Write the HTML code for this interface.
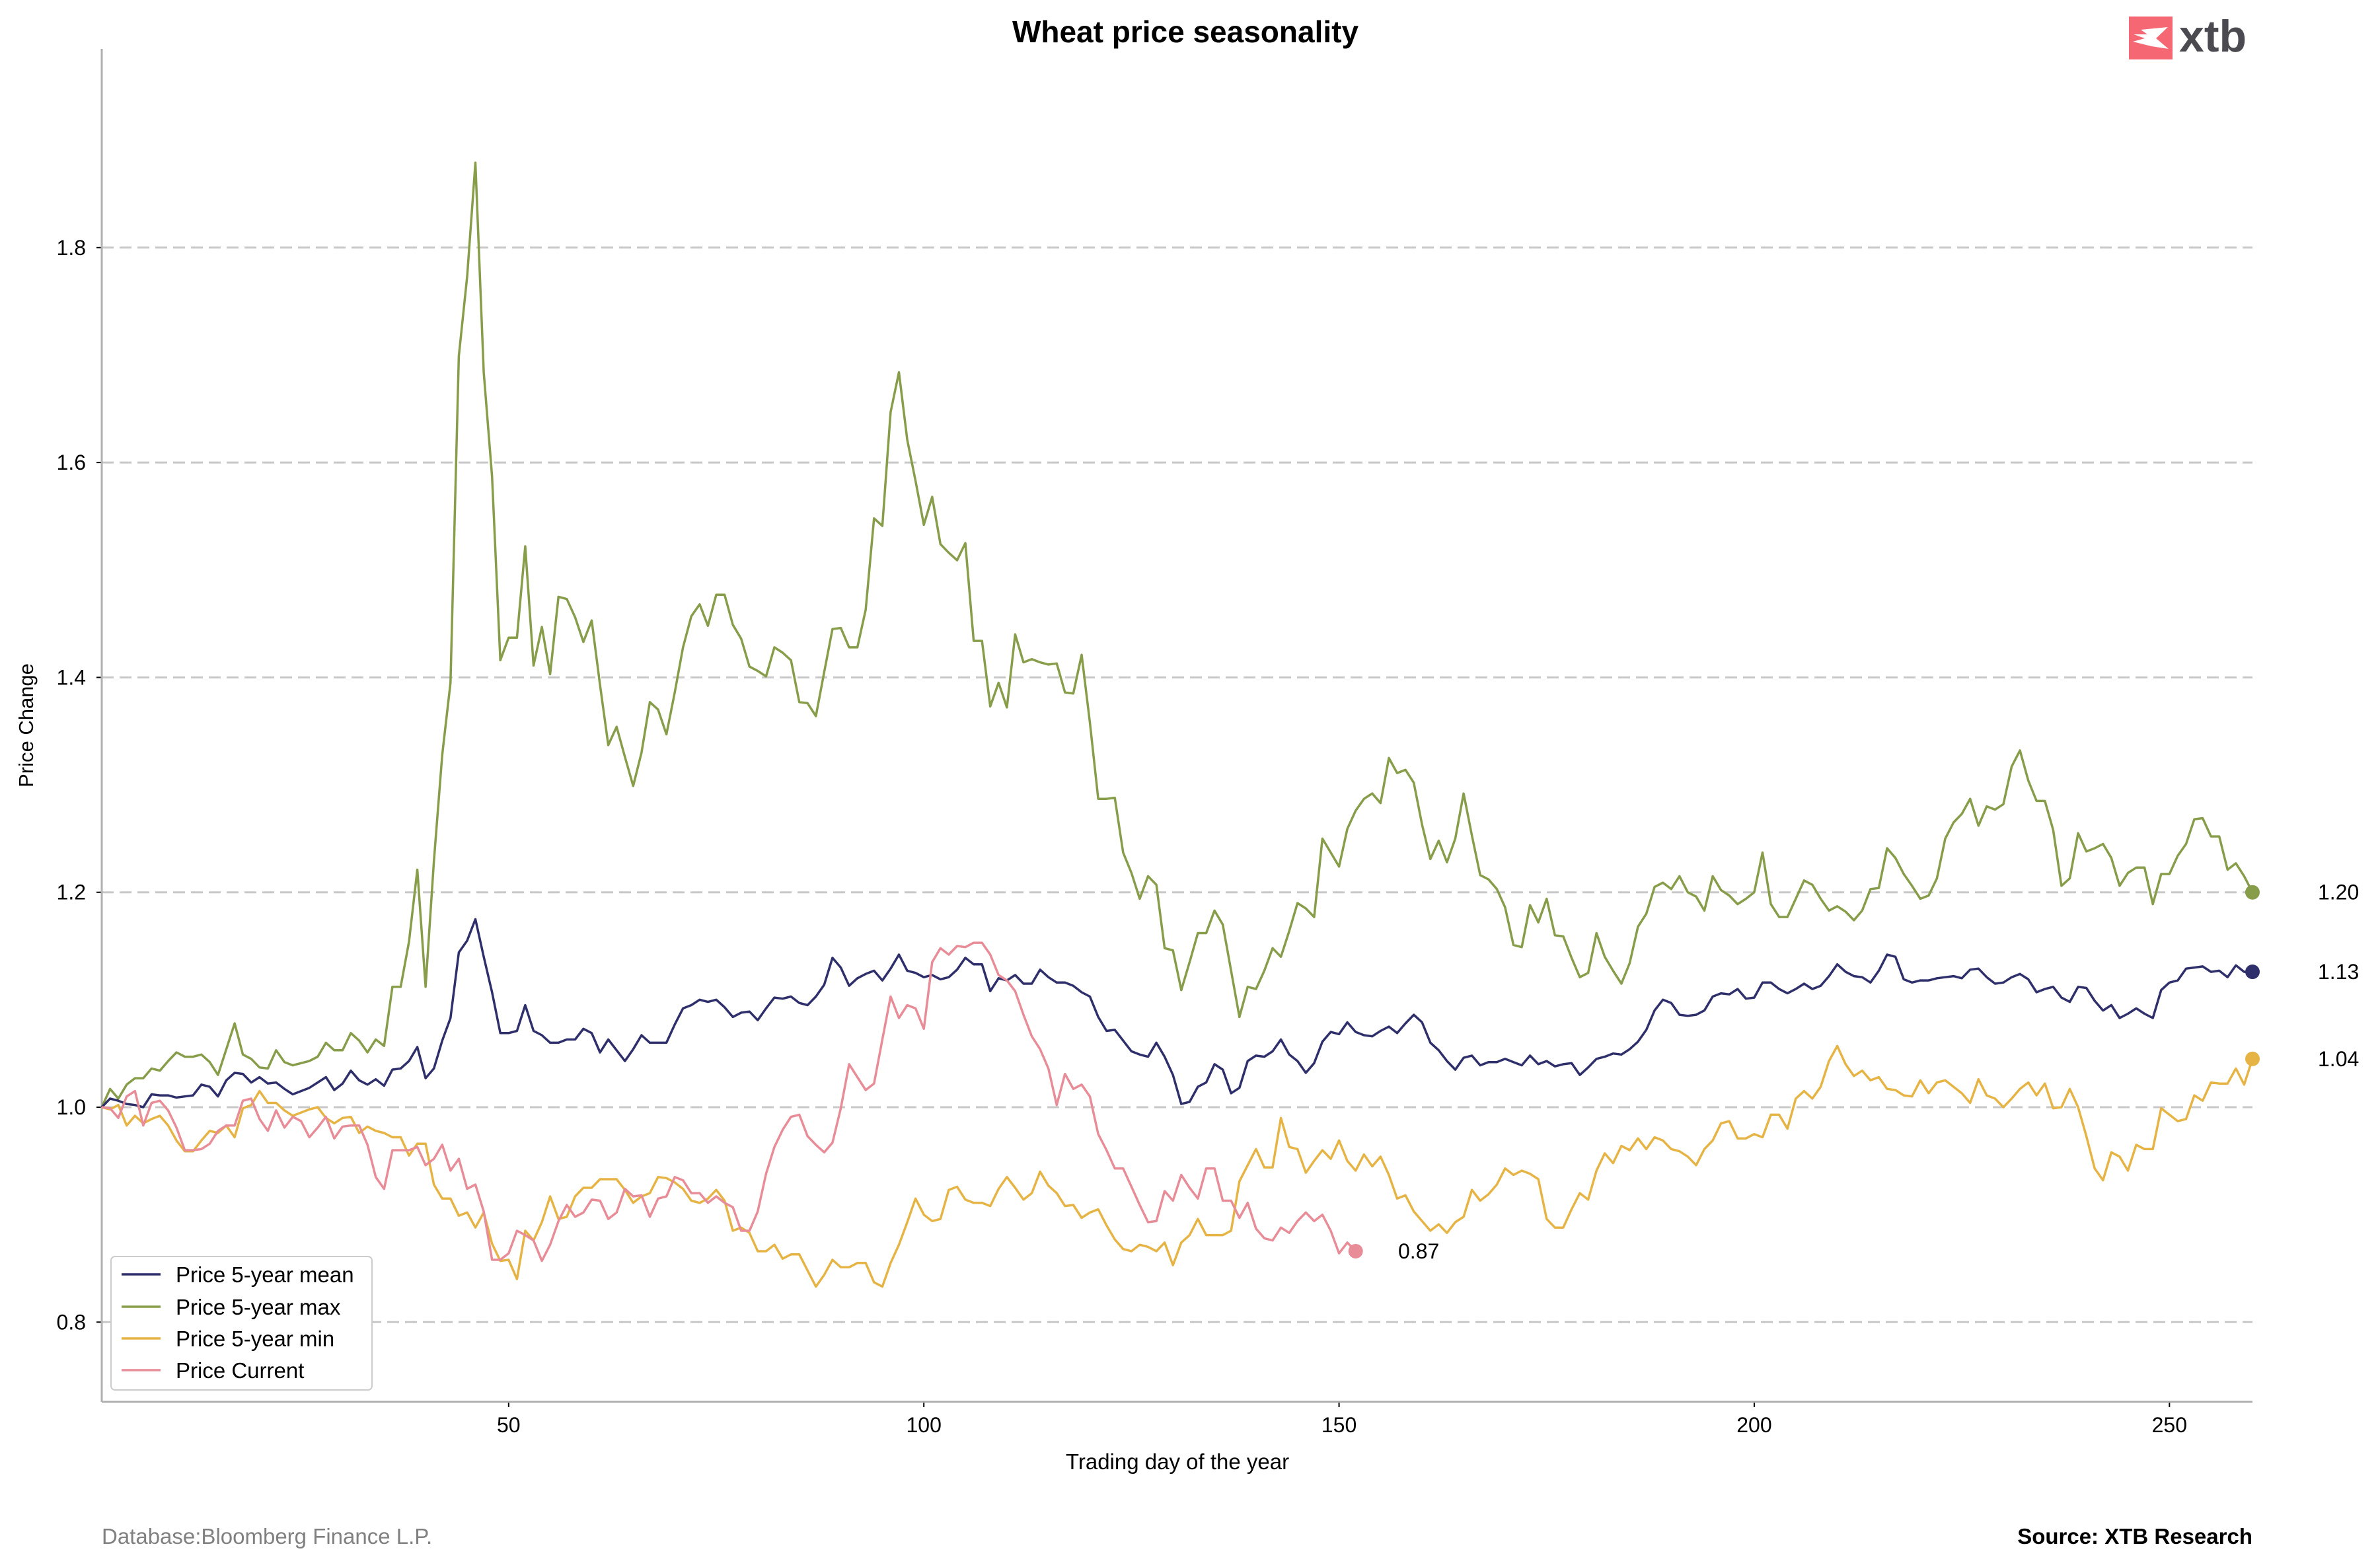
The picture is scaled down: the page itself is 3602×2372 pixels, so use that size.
<!DOCTYPE html>
<html><head><meta charset="utf-8"><style>
html,body{margin:0;padding:0;background:#fff;}
svg{display:block;font-family:"Liberation Sans",Arial,sans-serif;}
</style></head><body>
<svg id="chart" width="3602" height="2372" viewBox="0 0 3602 2372" xmlns="http://www.w3.org/2000/svg">
<text x="1794" y="64" text-anchor="middle" font-size="46" font-weight="bold" fill="#000">Wheat price seasonality</text>
<g>
<rect x="3222" y="25" width="66" height="65" fill="#f56873"/>
<path d="M3229 52 L3250 52 L3240 45 L3281 41 L3263 58 L3282 74 L3256 70 L3228 63 L3246 58 Z" fill="#fff"/>
<text x="3298" y="78" font-size="68" font-weight="bold" fill="#4a4a50">xtb</text>
</g>
<g id="grid"></g>
<g id="axes"></g>
<g id="series"></g>
<text x="1782" y="2224" text-anchor="middle" font-size="33" fill="#000">Trading day of the year</text>
<text x="0" y="0" transform="translate(50,1098) rotate(-90)" text-anchor="middle" font-size="31" fill="#000">Price Change</text>
<g>
<rect x="168" y="1902" width="395" height="202" rx="6" fill="#fff" stroke="#cccccc" stroke-width="2"/>
<g><line x1="184" y1="1929" x2="243" y2="1929" stroke="#2e2f6b" stroke-width="3.5"/><text x="266" y="1941" font-size="33" fill="#000">Price 5-year mean</text></g>
<g><line x1="184" y1="1978" x2="243" y2="1978" stroke="#879d4a" stroke-width="3.5"/><text x="266" y="1990" font-size="33" fill="#000">Price 5-year max</text></g>
<g><line x1="184" y1="2026" x2="243" y2="2026" stroke="#e6b444" stroke-width="3.5"/><text x="266" y="2038" font-size="33" fill="#000">Price 5-year min</text></g>
<g><line x1="184" y1="2074" x2="243" y2="2074" stroke="#e88c98" stroke-width="3.5"/><text x="266" y="2086" font-size="33" fill="#000">Price Current</text></g>
</g>
<text x="154" y="2337" font-size="33" fill="#808080">Database:Bloomberg Finance L.P.</text>
<text x="3409" y="2337" text-anchor="end" font-size="33" font-weight="bold" fill="#000">Source: XTB Research</text>
</svg>
<script>
const xTicks = [50, 100, 150, 200, 250];
const yTicks = [0.8, 1.0, 1.2, 1.4, 1.6, 1.8];
const yTickLabels = ["0.8", "1.0", "1.2", "1.4", "1.6", "1.8"];
const meanVals = [1.0,1.008,1.006,1.003,1.002,1.0,1.012,1.011,1.011,1.009,
1.01,1.011,1.021,1.019,1.01,1.025,1.032,1.031,1.023,1.028,
1.022,1.023,1.017,1.012,1.015,1.018,1.023,1.028,1.016,1.022,
1.034,1.025,1.021,1.026,1.02,1.035,1.036,1.043,1.056,1.027,
1.036,1.062,1.083,1.144,1.155,1.175,1.14,1.107,1.069,1.069,
1.071,1.095,1.071,1.067,1.06,1.06,1.063,1.063,1.073,1.069,
1.051,1.063,1.053,1.043,1.054,1.067,1.06,1.06,
1.06,1.077,1.092,1.095,1.1,1.098,1.1,1.093,1.084,1.088,1.089,1.081,
1.092,1.102,1.101,1.103,1.097,1.095,1.103,1.114,1.139,1.13,
1.113,1.12,1.124,1.127,1.118,1.129,1.142,1.127,1.125,1.121,
1.123,1.119,1.121,1.128,1.139,1.133,1.133,1.108,1.12,1.118,
1.123,1.115,1.115,1.128,1.121,1.116,1.116,1.113,1.107,1.103,
1.084,1.071,1.072,1.062,1.052,1.049,1.047,
1.06,1.047,1.03,1.003,1.005,1.019,1.023,1.04,1.035,1.013,1.018,1.043,1.048,
1.047,1.052,1.063,1.049,1.043,1.032,1.041,1.061,1.07,1.068,
1.079,1.07,1.067,1.066,1.071,1.075,1.069,1.078,1.086,1.079,
1.06,1.053,1.043,1.035,1.046,1.048,1.039,1.042,1.042,1.045,
1.042,1.039,1.048,1.04,1.043,1.038,1.04,1.041,1.03,1.037,
1.045,1.047,1.05,1.049,1.054,1.061,1.072,1.09,1.1,1.097,1.086,
1.085,1.086,1.09,1.103,1.106,1.105,1.11,1.101,1.102,
1.116,1.116,1.11,1.106,1.11,1.115,1.11,1.113,1.122,1.133,
1.126,1.122,1.121,1.116,1.127,1.142,1.14,1.119,1.116,1.118,
1.118,1.12,1.121,1.122,1.12,1.128,1.129,1.121,1.115,1.116,
1.121,1.124,1.119,1.107,1.11,1.112,1.102,1.098,1.112,1.111,
1.099,1.09,1.095,1.083,1.087,1.092,1.087,1.083,1.109,1.116,
1.118,1.129,1.13,1.131,1.126,1.127,1.121,1.132,1.126,1.126];
const maxVals = [1.0,1.017,1.008,1.021,1.027,1.027,1.036,1.034,1.043,1.051,
1.047,1.047,1.049,1.042,1.03,1.054,1.078,1.049,1.045,1.037,
1.036,1.053,1.042,1.039,1.041,1.043,1.047,1.06,1.053,1.053,
1.069,1.062,1.051,1.063,1.057,1.112,1.112,1.154,1.221,1.112,
1.229,1.328,1.395,1.699,1.773,1.879,1.684,1.587,1.416,1.437,
1.437,1.522,1.411,1.447,1.403,1.475,1.473,1.456,1.433,1.453,
1.393,1.337,1.354,1.326,1.299,1.33,1.377,1.37,
1.347,1.386,1.428,1.457,1.468,1.448,1.477,1.477,1.449,1.436,1.41,1.406,
1.401,1.428,1.423,1.416,1.377,1.376,1.364,1.405,1.445,1.446,
1.428,1.428,1.463,1.548,1.541,1.647,1.684,1.621,1.583,1.542,
1.568,1.524,1.516,1.509,1.525,1.434,1.434,1.373,1.395,1.372,
1.44,1.414,1.417,1.414,1.412,1.413,1.386,1.385,1.421,1.358,
1.287,1.287,1.288,1.237,1.218,1.194,1.215,
1.207,1.148,1.146,1.109,1.135,1.162,1.162,1.183,1.17,1.127,1.084,1.112,1.11,
1.127,1.148,1.14,1.164,1.19,1.185,1.177,1.25,1.237,1.224,
1.259,1.276,1.287,1.292,1.283,1.325,1.311,1.314,1.302,1.263,
1.231,1.248,1.228,1.25,1.292,1.253,1.216,1.212,1.203,1.186,
1.151,1.149,1.188,1.172,1.194,1.16,1.159,1.139,1.121,1.125,
1.162,1.14,1.127,1.115,1.134,1.168,1.18,1.205,1.209,1.203,1.215,
1.2,1.196,1.183,1.215,1.202,1.197,1.189,1.194,1.2,
1.237,1.189,1.177,1.177,1.194,1.211,1.207,1.194,1.183,1.187,
1.182,1.174,1.183,1.203,1.204,1.241,1.232,1.217,1.206,1.194,
1.197,1.213,1.25,1.265,1.273,1.287,1.262,1.28,1.277,1.282,
1.317,1.332,1.304,1.285,1.285,1.258,1.206,1.213,1.255,1.238,
1.241,1.245,1.232,1.206,1.218,1.223,1.223,1.189,1.217,1.217,
1.234,1.245,1.268,1.269,1.252,1.252,1.221,1.227,1.215,1.2];
const minVals = [1.0,0.998,1.002,0.983,0.992,0.985,0.989,0.992,0.983,0.969,
0.959,0.959,0.969,0.978,0.976,0.983,0.972,0.999,1.002,1.015,
1.004,1.004,0.997,0.992,0.995,0.998,1.0,0.99,0.985,0.99,
0.991,0.976,0.982,0.978,0.976,0.972,0.972,0.955,0.966,0.966,
0.928,0.915,0.915,0.899,0.902,0.888,0.902,0.873,0.857,0.858,
0.84,0.885,0.876,0.893,0.917,0.896,0.898,0.917,0.925,0.925,
0.933,0.933,0.933,0.923,0.911,0.917,0.92,0.935,
0.934,0.93,0.924,0.913,0.911,0.915,0.923,0.913,0.885,0.888,0.883,0.866,
0.866,0.872,0.859,0.863,0.863,0.848,0.833,0.844,0.858,0.851,
0.851,0.855,0.855,0.837,0.833,0.855,0.872,0.893,0.915,0.9,
0.894,0.896,0.923,0.926,0.914,0.911,0.911,0.908,0.924,0.935,
0.925,0.914,0.92,0.94,0.927,0.92,0.908,0.909,0.897,0.902,
0.905,0.89,0.877,0.868,0.866,0.872,0.87,
0.866,0.874,0.853,0.874,0.881,0.896,0.881,0.881,0.881,0.885,0.931,0.946,0.961,
0.944,0.944,0.99,0.963,0.961,0.939,0.95,0.96,0.952,0.969,
0.95,0.941,0.956,0.945,0.954,0.937,0.915,0.918,0.903,0.894,
0.885,0.891,0.883,0.893,0.898,0.923,0.913,0.919,0.928,0.943,
0.937,0.941,0.938,0.933,0.896,0.888,0.888,0.905,0.92,0.914,
0.941,0.957,0.948,0.964,0.96,0.971,0.961,0.972,0.969,0.961,0.959,
0.954,0.946,0.961,0.969,0.985,0.987,0.971,0.971,0.975,
0.972,0.993,0.993,0.98,1.008,1.015,1.008,1.019,1.043,1.057,
1.04,1.029,1.034,1.025,1.028,1.017,1.016,1.011,1.01,1.025,
1.013,1.023,1.025,1.019,1.013,1.004,1.026,1.011,1.008,1.0,
1.008,1.017,1.023,1.011,1.022,0.999,1.0,1.017,1.0,0.973,
0.943,0.932,0.958,0.954,0.941,0.965,0.961,0.961,0.999,0.993,
0.987,0.989,1.011,1.006,1.023,1.022,1.022,1.036,1.021,1.045];
const currentVals = [1.0,0.999,0.99,1.01,1.015,0.983,1.004,1.006,0.997,0.981,
0.96,0.96,0.961,0.966,0.978,0.983,0.983,1.006,1.008,0.989,
0.978,0.997,0.981,0.991,0.987,0.972,0.981,0.991,0.971,0.982,
0.983,0.983,0.965,0.935,0.924,0.96,0.96,0.96,0.963,0.946,
0.952,0.965,0.941,0.952,0.924,0.928,0.903,0.858,0.858,0.864,
0.885,0.881,0.876,0.857,0.872,0.894,0.909,0.898,0.902,0.914,
0.913,0.896,0.902,0.924,0.917,0.918,0.898,0.915,
0.917,0.935,0.932,0.92,0.92,0.911,0.917,0.911,0.907,0.885,0.885,0.903,
0.938,0.963,0.979,0.991,0.993,0.973,0.965,0.958,0.967,0.999,
1.04,1.028,1.016,1.022,1.063,1.103,1.083,1.095,1.092,1.073,
1.135,1.148,1.142,1.15,1.149,1.153,1.153,1.142,1.123,1.118,
1.108,1.086,1.066,1.054,1.036,1.002,1.031,1.017,1.021,1.01,
0.975,0.96,0.943,0.943,0.926,0.909,0.893,
0.894,0.922,0.913,0.937,0.925,0.915,0.943,0.943,0.913,0.913,0.897,0.911,0.887,
0.878,0.876,0.888,0.883,0.894,0.902,0.894,0.9,0.885,0.864,0.874,0.866];

const NS = "http://www.w3.org/2000/svg";
const L = 154, R = 3409, T = 74, B = 2122;
function xs(d){ return L + (d - 1) * (R - L) / 259; }
function ys(v){ return 1676 - (v - 1) * 1626.5; }
function mk(tag, attrs, parent){ const e = document.createElementNS(NS, tag); for (const k in attrs) e.setAttribute(k, attrs[k]); parent.appendChild(e); return e; }

const grid = document.getElementById('grid');
const axes = document.getElementById('axes');
const series = document.getElementById('series');

yTicks.forEach((t, i) => {
  const g = mk('line', {x1: L, x2: R, y1: ys(t), y2: ys(t), stroke: '#c8c8c8', 'stroke-width': 3, 'stroke-dasharray': '18,9'}, grid);
  
  
  const tk = mk('line', {x1: L - 8, x2: L, y1: ys(t), y2: ys(t), stroke: '#000', 'stroke-width': 2}, axes);
  
  
  const tx = mk('text', {x: L - 24, y: ys(t) + 11, 'text-anchor': 'end', 'font-size': 32, fill: '#000'}, axes);
  tx.textContent = yTickLabels[i];
  
  
});
xTicks.forEach(t => {
  const tk = mk('line', {x1: xs(t), x2: xs(t), y1: B, y2: B + 8, stroke: '#000', 'stroke-width': 2}, axes);
  
  
  const tx = mk('text', {x: xs(t), y: B + 46, 'text-anchor': 'middle', 'font-size': 32, fill: '#000'}, axes);
  tx.textContent = String(t);
  
  
});
const ls = mk('line', {x1: L, x2: L, y1: T, y2: B, stroke: '#b0b0b0', 'stroke-width': 3}, axes);


const bs = mk('line', {x1: L, x2: R, y1: B, y2: B, stroke: '#b0b0b0', 'stroke-width': 3}, axes);



function drawSeries(vals, color, name, labelX){
  const pts = vals.map((v, i) => xs(i + 1).toFixed(1) + ',' + ys(v).toFixed(1)).join(' ');
  const pl = mk('polyline', {points: pts, fill: 'none', stroke: color, 'stroke-width': 3.5, 'stroke-linejoin': 'round'}, series);
  
  
  const n = vals.length, lv = vals[n - 1];
  const c = mk('circle', {cx: xs(n), cy: ys(lv), r: 11, fill: color}, series);
  
  
  const t = mk('text', {x: labelX, y: ys(lv) + 11, 'font-size': 32, fill: '#000'}, series);
  t.textContent = lv.toFixed(2);
  
  
}
drawSeries(minVals, '#e6b444', 'min', 3508);
drawSeries(maxVals, '#879d4a', 'max', 3508);
drawSeries(meanVals, '#2e2f6b', 'mean', 3508);
drawSeries(currentVals, '#e88c98', 'current', 2116);
</script>
</body></html>
